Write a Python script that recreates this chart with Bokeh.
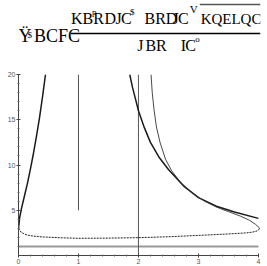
from bokeh.plotting import figure
from bokeh.layouts import column
from bokeh.models import Range1d, FixedTicker
from bokeh.core.properties import value
from bokeh.embed import file_html
from bokeh.resources import INLINE

# ---------------- data ----------------
x_ticks = [0, 1, 2, 3, 4]
x_minor = [0.2, 0.4, 0.6, 0.8, 1.2, 1.4, 1.6, 1.8, 2.2, 2.4, 2.6, 2.8,
           3.2, 3.4, 3.6, 3.8]
y_ticks = [5, 10, 15, 20]
y_minor = [1, 2, 3, 4, 6, 7, 8, 9, 11, 12, 13, 14, 16, 17, 18, 19]

left_x = [0.0, 0.02, 0.05, 0.1, 0.15, 0.2, 0.25, 0.3, 0.35, 0.4, 0.45]
left_y = [3.0, 4.2, 5.2, 6.6, 8.0, 9.6, 11.3, 13.2, 15.2, 17.5, 20.0]

thick_x = [1.855, 1.9, 1.95, 2.0, 2.1, 2.2, 2.35, 2.5, 2.75, 3.0, 3.3, 3.6, 4.0]
thick_y = [20.0, 18.6, 17.3, 16.0, 14.1, 12.5, 10.8, 9.5, 7.7, 6.4, 5.45, 4.8, 4.1]

thin_x = [2.21, 2.23, 2.26, 2.3, 2.36, 2.45, 2.55, 2.7, 2.9, 3.1, 3.3, 3.5,
          3.7, 3.85, 3.95, 4.01, 4.02]
thin_y = [20.0, 18.0, 16.1, 14.2, 12.5, 10.65, 9.4, 8.1, 6.9, 6.0, 5.35, 4.85,
          4.35, 3.9, 3.45, 3.1, 2.95]

dash_x = [4.02, 3.98, 3.9, 3.8, 3.5, 3.0, 2.5, 2.0, 1.5, 1.0, 0.7, 0.4, 0.25,
          0.15, 0.09, 0.04, 0.0]
dash_y = [2.95, 2.72, 2.58, 2.5, 2.38, 2.22, 2.07, 1.97, 1.92, 1.9, 1.96, 2.05,
          2.14, 2.25, 2.4, 2.6, 3.0]

vline_x = [1.0, 2.0]
vline_y0 = [5.0, 0.0]
vline_y1 = [20.0, 20.0]

hline_y = [1.0]
hline_x0 = [0.0]
hline_x1 = [4.0]

# title glyph groups (garbled formula as rendered)
title_big = ["KBR", "D", "J", "C", "BRD", "J", "C",
             "J", "BR", "I", "C"]
title_root = ["KQEL", "QC"]
title_left = ["Ÿ", "BCFC"]
title_small = ["$", "p", "$", "o"]
title_radical = ["V"]

# ---------------- title figure ----------------
SERIF = value("Liberation Serif")
t = figure(width=267, height=56, x_range=Range1d(0, 267), y_range=Range1d(56, 0),
           x_axis_type=None, y_axis_type=None, output_backend="svg",
           toolbar_location=None, min_border=0)
t.outline_line_color = None

big_pos = [(58, 18), (95, 18), (107, 18), (113, 18), (139, 18), (170, 18),
           (176, 18), (131, 45), (140, 45), (179, 45), (184, 45)]
t.text(x=[p_[0] for p_ in big_pos], y=[p_[1] for p_ in big_pos], text=title_big,
       text_font=SERIF, text_font_size="16px", text_baseline="alphabetic",
       text_color="black")
root_pos = [(201, 18), (245, 18)]
t.text(x=[p_[0] for p_ in root_pos], y=[p_[1] for p_ in root_pos], text=title_root,
       text_font=SERIF, text_font_size="15px", text_baseline="alphabetic",
       text_color="black")
left_pos = [(0, 35), (17, 35)]
t.text(x=[p_[0] for p_ in left_pos], y=[p_[1] for p_ in left_pos], text=title_left,
       text_font=SERIF, text_font_size="18px", text_baseline="alphabetic",
       text_color="black")
small_pos = [(10, 34), (81, 11), (123, 11), (195, 38)]
t.text(x=[p_[0] for p_ in small_pos], y=[p_[1] for p_ in small_pos], text=title_small,
       text_font=SERIF, text_font_size="9px", text_baseline="alphabetic",
       text_color="black")
t.text(x=[189], y=[8], text=title_radical, text_font=SERIF, text_font_size="11px",
       text_baseline="alphabetic", text_color="black")
# fraction bar and radical bar
t.segment(x0=[58, 200], y0=[33, 4], x1=[267, 267], y1=[33, 4],
          line_color=["black", "#555555"], line_width=[1.3, 1.3])

# ---------------- main figure ----------------
p = figure(width=267, height=210, x_range=Range1d(0, 4.035), y_range=Range1d(0, 20),
           output_backend="svg", toolbar_location=None,
           min_border_left=18, min_border_right=7, min_border_top=18,
           min_border_bottom=8)
p.grid.visible = False
p.outline_line_color = None

p.xaxis.ticker = FixedTicker(ticks=x_ticks, minor_ticks=x_minor)
p.yaxis.ticker = FixedTicker(ticks=y_ticks, minor_ticks=y_minor)
p.xaxis.bounds = (0, 4)
p.yaxis.bounds = (0, 20)
for ax in (p.xaxis, p.yaxis):
    ax.axis_line_color = "#444444"
    ax.major_tick_line_color = "#444444"
    ax.minor_tick_line_color = "#666666"
    ax.major_tick_in = 2
    ax.major_tick_out = 2
    ax.minor_tick_in = 1
    ax.minor_tick_out = 1
    ax.major_label_text_font_size = "7px"
    ax.major_label_text_color = "#555555"
    ax.major_label_text_font = "Liberation Sans"
    ax.major_label_standoff = 1

p.segment(x0=hline_x0, y0=hline_y, x1=hline_x1, y1=hline_y,
          line_color="#999999", line_width=2)
p.segment(x0=vline_x, y0=vline_y0, x1=vline_x, y1=vline_y1,
          line_color="#555555", line_width=1)
p.line(dash_x, dash_y, line_color="#222222", line_width=1, line_dash="2 1")
p.line(left_x, left_y, line_color="#1a1a1a", line_width=1.5)
p.line(thick_x, thick_y, line_color="#1a1a1a", line_width=1.5)
p.line(thin_x, thin_y, line_color="#333333", line_width=0.9)

layout = column(t, p)
open("out.html", "w").write(file_html(layout, INLINE))
